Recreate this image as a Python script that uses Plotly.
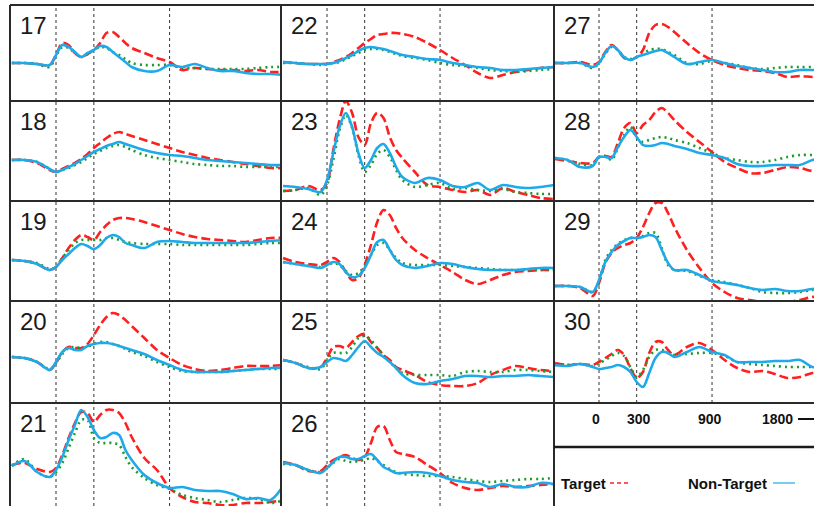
import plotly.graph_objects as go

# ---------------- data (amplitude in arbitrary units, time in ms) ----------------
TIME = [-350, -250, -150, -50, 0, 50, 100, 150, 200, 250, 300, 350, 400, 450, 500,
        550, 600, 700, 800, 900, 1000, 1100, 1200, 1300, 1400, 1500, 1600, 1700, 1810]

PANELS = [17, 18, 19, 20, 21, 22, 23, 24, 25, 26, 27, 28, 29, 30]

target_17 = [37,37,36,35,45,57,55,47,43,46,50,57,67,68,63,57,52,47,42,38,30,32,31,30,30,29,30,28,28]
nontarget_17 = [37,37,36,35,45,55,53,48,43,47,50,54,53,48,43,38,33,29,29,35,33,36,32,29,29,27,26,26,25]
third_17 = [37,37,36,33,44,53,52,47,43,46,50,53,52,48,45,41,37,35,35,35,32,32,31,31,31,31,32,33,33]

target_18 = [40,40,37,30,28,31,34,37,41,46,52,57,62,66,68,66,64,60,56,52,48,45,42,40,38,36,34,32,32]
nontarget_18 = [40,40,38,31,28,30,33,36,40,44,48,51,54,56,58,56,54,50,47,45,44,42,40,39,38,37,36,35,35]
third_18 = [40,40,38,31,28,30,32,35,38,42,46,49,52,54,55,53,50,45,42,40,38,36,35,34,34,33,33,33,33]

target_19 = [40,39,36,30,33,42,52,60,65,63,60,68,75,80,82,82,81,78,74,70,66,63,61,60,59,58,60,62,62]
nontarget_19 = [40,39,36,30,33,40,46,52,56,54,51,55,62,65,63,57,55,52,58,59,58,57,57,57,57,57,58,59,60]
third_19 = [40,39,37,31,33,42,50,57,60,60,60,60,62,62,60,58,57,56,56,56,55,55,55,55,55,55,56,57,57]

target_20 = [43,42,38,30,37,48,53,52,52,56,65,75,83,87,85,80,74,62,50,42,35,31,29,30,32,34,34,34,35]
nontarget_20 = [43,42,38,30,38,48,52,50,50,54,56,57,57,56,54,52,50,46,40,35,30,28,28,28,29,30,31,32,32]
third_20 = [43,42,38,31,37,46,52,53,52,53,56,58,58,56,54,51,48,44,38,33,29,28,28,28,29,30,31,31,31]

target_21 = [41,43,37,34,38,51,68,83,94,93,84,91,96,96,93,83,69,48,36,18,9,4,3,1,1,3,3,4,6]
nontarget_21 = [40,45,34,29,36,49,66,81,96,89,76,68,69,73,71,56,46,31,23,18,19,16,15,15,12,7,8,6,22]
third_21 = [40,47,34,29,34,43,58,73,86,86,68,63,63,63,61,49,39,28,21,17,11,8,6,4,6,8,7,3,6]

target_22 = [38,37,36,36,36,38,40,43,47,52,57,61,65,66,67,67,66,63,57,50,42,35,27,22,25,28,30,32,33]
nontarget_22 = [38,37,36,36,36,37,39,42,45,49,52,53,52,51,49,47,45,43,41,40,37,35,33,32,30,30,31,32,33]
third_22 = [37,37,36,35,36,37,38,41,44,47,50,51,51,50,48,46,44,42,40,37,35,34,32,30,29,28,29,30,31]

target_23 = [9,10,14,10,17,50,80,99,87,63,55,77,87,82,63,50,42,28,15,13,10,8,10,5,12,8,5,2,1]
nontarget_23 = [14,13,11,8,20,47,73,87,73,47,32,40,52,56,47,33,23,17,22,20,14,13,17,10,15,13,12,13,15]
third_23 = [9,10,12,5,15,40,70,85,72,45,28,35,46,50,43,30,20,13,15,17,11,12,10,9,11,8,7,6,6]

target_24 = [42,38,36,35,38,42,38,28,20,22,35,55,78,90,85,72,62,50,42,35,28,20,16,20,25,28,29,30,30]
nontarget_24 = [38,36,34,32,35,38,36,28,23,24,32,45,58,60,50,40,35,32,34,37,36,33,31,30,30,30,31,32,32]
third_24 = [38,36,34,33,35,37,35,29,25,27,34,45,55,57,50,42,37,35,35,35,34,33,32,31,30,30,30,30,30]

target_25 = [40,37,32,33,42,53,54,52,58,64,66,58,52,45,40,33,30,25,18,15,14,14,17,25,30,34,32,30,29]
nontarget_25 = [40,37,32,33,38,42,41,39,45,53,59,53,47,43,38,32,25,17,16,19,21,24,24,23,24,24,25,24,23]
third_25 = [40,37,33,31,40,47,47,47,53,62,64,60,52,45,38,32,27,25,25,25,24,28,29,28,28,30,30,29,28]

target_26 = [44,41,35,35,41,46,49,51,48,46,49,63,79,80,66,54,52,49,41,33,23,18,16,18,20,19,20,21,22]
nontarget_26 = [43,41,36,33,38,44,49,49,47,47,50,52,46,39,36,33,33,34,33,30,26,24,23,19,22,19,19,23,22]
third_26 = [42,41,36,34,38,43,47,45,44,45,46,48,45,41,37,34,32,31,30,30,29,27,25,24,25,26,27,27,28]

target_27 = [37,37,38,35,38,48,55,50,42,40,43,50,67,75,76,73,68,57,47,40,35,32,30,29,27,23,24,23,23]
nontarget_27 = [37,37,37,33,37,47,54,50,43,40,43,45,47,49,50,47,43,36,38,40,37,34,32,30,28,28,30,30,30]
third_27 = [37,37,37,32,37,46,53,50,43,41,43,46,50,51,51,48,45,37,36,39,37,35,32,31,32,33,33,33,33]

target_28 = [41,39,37,37,43,44,43,57,72,77,67,75,80,88,92,87,80,68,58,48,38,32,27,27,30,33,32,29,29]
nontarget_28 = [42,40,33,34,43,43,42,53,63,70,63,55,54,55,57,56,54,51,47,45,42,36,34,34,35,35,35,40,42]
third_28 = [42,40,36,35,43,44,40,52,65,73,62,58,60,62,63,62,60,57,52,47,42,40,38,38,40,43,45,45,45]

target_29 = [14,14,12,4,17,37,47,52,55,57,62,73,87,97,97,87,73,50,32,17,8,2,0,-2,-3,-2,0,3,3]
nontarget_29 = [14,14,13,8,20,38,48,55,59,62,62,63,65,63,50,37,30,30,25,19,17,15,12,10,11,9,9,11,11]
third_29 = [14,14,13,8,19,40,50,56,60,62,62,64,67,67,52,35,30,29,24,20,18,15,12,8,7,7,8,10,10]

target_30 = [37,35,36,35,38,42,46,50,45,32,22,28,47,58,58,50,45,53,57,50,40,32,28,29,26,22,23,27,27]
nontarget_30 = [35,34,36,33,31,32,33,35,33,28,18,13,27,42,48,47,43,48,53,48,45,38,38,38,39,39,40,33,33]
third_30 = [35,35,36,34,37,40,44,47,44,33,23,30,43,50,50,47,45,46,47,47,44,38,36,35,34,33,33,33,33]

MARKER_TIMES = [0, 300, 900]
SCALE_LABELS = ["0", "300", "900", "1800"]
LEGEND_LABELS = ["Target", "Non-Target"]

SERIES = {
    17: (target_17, nontarget_17, third_17), 18: (target_18, nontarget_18, third_18),
    19: (target_19, nontarget_19, third_19), 20: (target_20, nontarget_20, third_20),
    21: (target_21, nontarget_21, third_21), 22: (target_22, nontarget_22, third_22),
    23: (target_23, nontarget_23, third_23), 24: (target_24, nontarget_24, third_24),
    25: (target_25, nontarget_25, third_25), 26: (target_26, nontarget_26, third_26),
    27: (target_27, nontarget_27, third_27), 28: (target_28, nontarget_28, third_28),
    29: (target_29, nontarget_29, third_29), 30: (target_30, nontarget_30, third_30),
}

# ---------------- layout geometry (pixels) ----------------
W, H = 814, 506
COL_X = [(10, 281), (281, 554), (554, 814)]
ZERO_PX = [56, 327, 599]
PX_PER_MS = [0.1262, 0.1256, 0.1256]
ROW_Y = [(5, 101), (101, 201), (201, 301), (301, 403), (403, 506)]
ROW_YRANGE = [(-1, 95), (-1, 99), (-1, 99), (-3, 99), (0, 103)]

RED = "#ff1f1f"
BLUE = "#1eaaea"
GREEN = "#1c9a2c"
FONT = "Liberation Sans, Arial, sans-serif"

def px(x):
    return x / W

def py(y):
    return 1 - y / H

fig = go.Figure()
layout = dict(width=W, height=H, margin=dict(l=0, r=0, t=0, b=0),
              paper_bgcolor="white", plot_bgcolor="white", showlegend=False)
shapes = []
annotations = []

for k, pid in enumerate(PANELS, start=1):
    if pid <= 26:
        col = (pid - 17) // 5
        row = (pid - 17) % 5
    else:
        col = 2
        row = pid - 27
    x0, x1 = COL_X[col]
    y0, y1 = ROW_Y[row]
    xr = [(x0 - ZERO_PX[col]) / PX_PER_MS[col], (x1 - ZERO_PX[col]) / PX_PER_MS[col]]
    ax = "" if k == 1 else str(k)
    layout["xaxis" + ax] = dict(domain=[px(x0), px(x1)], range=xr, visible=False,
                                anchor="y" + ax, fixedrange=True)
    layout["yaxis" + ax] = dict(domain=[py(y1), py(y0)], range=list(ROW_YRANGE[row]),
                                visible=False, anchor="x" + ax, fixedrange=True)
    tgt, ntg, thr = SERIES[pid]
    common = dict(x=TIME, xaxis="x" + ax, yaxis="y" + ax, mode="lines",
                  hoverinfo="skip", showlegend=False)
    fig.add_trace(go.Scatter(y=tgt, line=dict(color=RED, width=2.6, dash="9px,4px",
                                              shape="spline", smoothing=0.9), **common))
    fig.add_trace(go.Scatter(y=thr, line=dict(color=GREEN, width=2.6, dash="2px,4px",
                                              shape="spline", smoothing=0.9), **common))
    fig.add_trace(go.Scatter(y=ntg, line=dict(color=BLUE, width=2.6,
                                              shape="spline", smoothing=0.9), **common))
    for t in MARKER_TIMES:
        shapes.append(dict(type="line", xref="x" + ax, yref="y" + ax + " domain",
                           x0=t, x1=t, y0=0, y1=1, layer="below",
                           line=dict(color="#333333", width=1, dash="3px,3px")))
    annotations.append(dict(text=str(pid), xref="paper", yref="paper",
                            x=px(x0 + 8), y=py(y0 + 5), xanchor="left", yanchor="top",
                            showarrow=False, font=dict(family=FONT, size=24, color="#1a1a1a")))

# panel borders
BORDER = dict(color="#2a2a2a", width=2)
for xv in (10, 281, 554):
    shapes.append(dict(type="line", xref="paper", yref="paper", x0=px(xv), x1=px(xv),
                       y0=py(5), y1=py(506), line=BORDER))
for yv in (5, 101, 201, 301, 403):
    shapes.append(dict(type="line", xref="paper", yref="paper", x0=px(10), x1=px(814),
                       y0=py(yv), y1=py(yv), line=BORDER))
shapes.append(dict(type="line", xref="paper", yref="paper", x0=px(554), x1=px(814),
                   y0=py(447), y1=py(447), line=dict(color="#1a1a1a", width=2.5)))

# scale bar labels
SCALE_X = [596, 639, 710, 777]
for lab, xv in zip(SCALE_LABELS, SCALE_X):
    annotations.append(dict(text="<b>%s</b>" % lab, xref="paper", yref="paper",
                            x=px(xv), y=py(419), xanchor="center", yanchor="middle",
                            showarrow=False, font=dict(family=FONT, size=14, color="#111")))
shapes.append(dict(type="line", xref="paper", yref="paper", x0=px(798), x1=px(814),
                   y0=py(419), y1=py(419), line=dict(color="#111", width=2)))

# legend
annotations.append(dict(text="<b>%s</b>" % LEGEND_LABELS[0], xref="paper", yref="paper",
                        x=px(559), y=py(483), xanchor="left", yanchor="middle",
                        showarrow=False, font=dict(family=FONT, size=15, color="#111")))
shapes.append(dict(type="line", xref="paper", yref="paper", x0=px(610), x1=px(631),
                   y0=py(483), y1=py(483), line=dict(color=RED, width=1.6, dash="4px,3px")))
annotations.append(dict(text="<b>%s</b>" % LEGEND_LABELS[1], xref="paper", yref="paper",
                        x=px(686), y=py(483), xanchor="left", yanchor="middle",
                        showarrow=False, font=dict(family=FONT, size=15, color="#111")))
shapes.append(dict(type="line", xref="paper", yref="paper", x0=px(773), x1=px(795),
                   y0=py(483), y1=py(483), line=dict(color=BLUE, width=1.2)))

layout["shapes"] = shapes
layout["annotations"] = annotations
fig.update_layout(**layout)
fig.write_html("out.html")
